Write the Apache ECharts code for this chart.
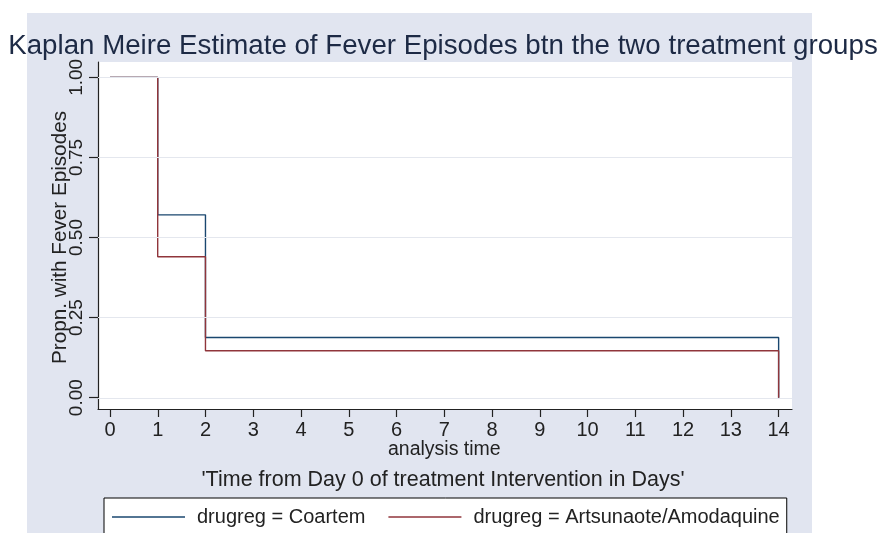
<!DOCTYPE html>
<html>
<head>
<meta charset="utf-8">
<script src="https://cdn.jsdelivr.net/npm/echarts@6/dist/echarts.min.js"></script>
<style>
html,body{margin:0;padding:0;background:#ffffff;}
#chart{width:881px;height:533px;}
</style>
</head>
<body>
<div id="chart"></div>
<script>
// ---- data ----
const times = [0, 1, 2, 14];
const coartem = [1.00, 0.571, 0.188, 0.00];
const artsunate = [1.00, 0.440, 0.147, 0.00];
const xTicks = [0,1,2,3,4,5,6,7,8,9,10,11,12,13,14];
const yTicks = [0.00, 0.25, 0.50, 0.75, 1.00];
const seriesNames = ['drugreg = Coartem', 'drugreg = Artsunaote/Amodaquine'];
const titleText = 'Kaplan Meire Estimate of Fever Episodes btn the two treatment groups';
const subTitleText = "'Time from Day 0 of treatment Intervention in Days'";
const xName = 'analysis time';
const yName = 'Propn. with Fever Episodes';

const FONT = '"Liberation Sans", Arial, sans-serif';
const chart = echarts.init(document.getElementById('chart'), null, {renderer: 'canvas'});

function pairs(xs, ys){ return xs.map((x,i)=>[x, ys[i]]); }

const option = {
  animation: false,
  textStyle: {fontFamily: FONT},
  graphic: [{
    type: 'rect', z: -10, silent: true,
    shape: {x: 27, y: 13, width: 785, height: 530},
    style: {fill: '#e1e5f0'}
  }],
  title: [{
    text: titleText, left: 443, top: 32, textAlign: 'center', padding: 0,
    textStyle: {fontFamily: FONT, fontSize: 27.7, fontWeight: 'normal', color: '#1d2a45'}
  },{
    text: subTitleText, left: 443, top: 469, textAlign: 'center', padding: 0,
    textStyle: {fontFamily: FONT, fontSize: 21.5, fontWeight: 'normal', color: '#222'}
  }],
  legend: {
    data: seriesNames,
    left: 104, top: 498,
    orient: 'horizontal',
    icon: 'rect', itemWidth: 73, itemHeight: 1.5, itemGap: 23,
    padding: [9, 7, 9, 8],
    backgroundColor: '#ffffff', borderColor: '#000000', borderWidth: 1,
    textStyle: {fontFamily: FONT, fontSize: 20, color: '#222', padding: [0,0,0,7]}
  },
  grid: [
    {left: 98, right: 89, top: 62, bottom: 124, show: true, backgroundColor: '#ffffff', borderWidth: 0, containLabel: false},
    {left: 110, right: 102.4, top: 77.3, bottom: 135.3, show: false, containLabel: false}
  ],
  xAxis: [{
    gridIndex: 0, type: 'value', min: -0.25, max: 14.28,
    axisLine: {show: true, onZero: false, lineStyle: {color: '#222', width: 1.2}},
    axisTick: {show: false}, axisLabel: {show: false}, splitLine: {show: false}
  },{
    gridIndex: 1, type: 'value', min: xTicks[0], max: xTicks[xTicks.length-1], interval: 1,
    offset: 11.3,
    axisLine: {show: false, onZero: false},
    axisTick: {show: true, length: 8, lineStyle: {color: '#222', width: 1.2}},
    axisLabel: {show: true, fontFamily: FONT, fontSize: 20, color: '#222', margin: 11},
    splitLine: {show: false},
    name: xName, nameLocation: 'middle', nameGap: 31, nameMoveOverlap: false,
    nameTextStyle: {fontFamily: FONT, fontSize: 19.5, color: '#222'}
  }],
  yAxis: [{
    gridIndex: 0, type: 'value', min: -0.035, max: 1.048,
    axisLine: {show: true, onZero: false, lineStyle: {color: '#222', width: 1.2}},
    axisTick: {show: false}, axisLabel: {show: false}, splitLine: {show: false}
  },{
    gridIndex: 1, type: 'value', min: yTicks[0], max: yTicks[yTicks.length-1], interval: 0.25,
    offset: 12,
    axisLine: {show: false, onZero: false},
    axisTick: {show: true, length: 9, lineStyle: {color: '#222', width: 1.2}},
    axisLabel: {show: true, fontFamily: FONT, fontSize: 19, color: '#222', margin: 12, rotate: 90,
      formatter: v => v.toFixed(2)},
    splitLine: {show: false},
    name: yName, nameLocation: 'middle', nameGap: 27, nameRotate: 90, nameMoveOverlap: false,
    nameTextStyle: {fontFamily: FONT, fontSize: 20.7, color: '#222'}
  }],
  series: [{
    type: 'line', name: '_grid', xAxisIndex: 0, yAxisIndex: 0, data: [], z: 1, silent: true,
    markLine: {
      silent: true, symbol: 'none', label: {show: false},
      lineStyle: {color: '#e4e7ee', width: 1, type: 'solid'},
      data: yTicks.map(v => ({yAxis: v}))
    }
  },{
    type: 'line', name: seriesNames[0], xAxisIndex: 0, yAxisIndex: 0,
    step: 'end', showSymbol: false, symbol: 'none', z: 3,
    color: '#1a476f',
    lineStyle: {color: '#1a476f', width: 1.4},
    data: pairs(times, coartem)
  },{
    type: 'line', name: seriesNames[1], xAxisIndex: 0, yAxisIndex: 0,
    step: 'end', showSymbol: false, symbol: 'none', z: 4,
    color: '#90353b',
    lineStyle: {color: '#90353b', width: 1.4},
    data: pairs(times, artsunate)
  }]
};
chart.setOption(option);
</script>
</body>
</html>
